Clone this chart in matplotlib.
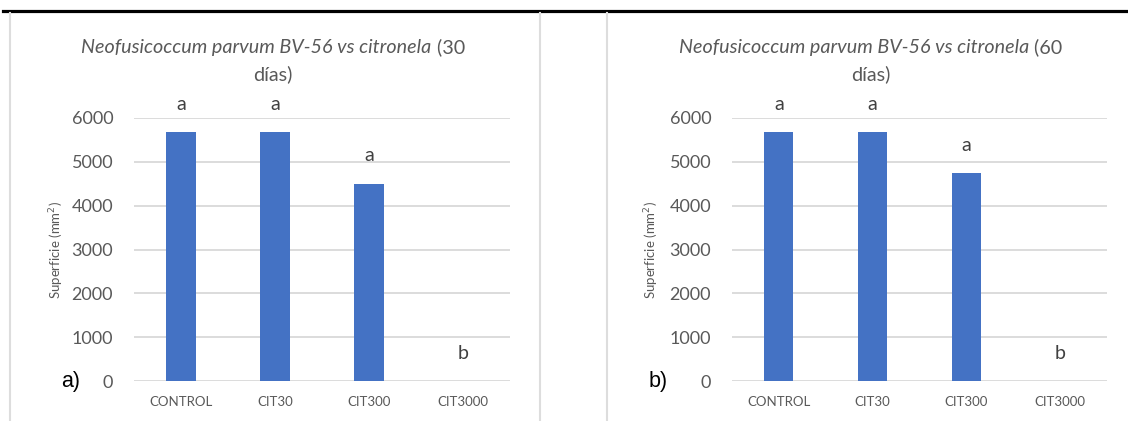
import matplotlib
matplotlib.use('Agg')
import matplotlib.pyplot as plt
from matplotlib.lines import Line2D

# data
categories = ['CONTROL', 'CIT30', 'CIT300', 'CIT3000']
surface_30 = [5670, 5670, 4500, 0]
surface_60 = [5670, 5670, 4740, 0]
letters_30 = ['a', 'a', 'a', 'b']
letters_60 = ['a', 'a', 'a', 'b']
yticks = [0, 1000, 2000, 3000, 4000, 5000, 6000]

W, H = 1128, 421
BAR = '#4472C4'
TXT = '#595959'
GRID = '#D9D9D9'
FONT = 'Lato'

plt.rcParams['font.family'] = [FONT, 'DejaVu Sans']

fig = plt.figure(figsize=(W / 100, H / 100), dpi=100)


def fx(px):
    return px / W


def fy(py):
    return 1 - py / H


def title(cx, y1, y2, italic_part, rest, line2):
    """Two-line title, first part italic like the Excel chart."""
    r = fig.canvas.get_renderer()
    t1 = fig.text(0, fy(y1), italic_part, style='italic', fontsize=14.2, color=TXT, va='center', ha='left')
    t2 = fig.text(0, fy(y1), rest, fontsize=14.2, color=TXT, va='center', ha='left')
    w1 = t1.get_window_extent(r).width
    w2 = t2.get_window_extent(r).width
    left = cx - (w1 + w2) / 2
    t1.set_x(fx(left))
    t2.set_x(fx(left + w1))
    fig.text(fx(cx), fy(y2), line2, fontsize=14.2, color=TXT, va='center', ha='center')


def panel(x0, x1, values, letters, days, tag, tag_x, ylab_x):
    ax = fig.add_axes([fx(x0), fy(381), fx(x1) - fx(x0), (381 - 118) / H])
    pos = range(len(categories))
    ax.bar(pos, values, width=0.31, color=BAR, zorder=3)
    ax.set_xlim(-0.5, len(categories) - 0.5)
    ax.set_ylim(0, 6000)
    ax.set_yticks(yticks)
    ax.set_xticks(list(pos))
    ax.set_xticklabels(categories)
    ax.tick_params(axis='y', length=0, pad=15, labelsize=13, labelcolor=TXT)
    ax.tick_params(axis='x', length=0, pad=11, labelsize=9.5, labelcolor=TXT)
    ax.yaxis.grid(True, color=GRID, lw=1.3, zorder=0)
    ax.set_axisbelow(True)
    for s in ax.spines.values():
        s.set_visible(False)
    for p, v, lt in zip(pos, values, letters):
        ax.annotate(lt, (p, v), xytext=(0, 20), textcoords='offset points',
                    ha='center', va='center', fontsize=14, color='#404040')

    cx = (x0 + x1) / 2 + (273 - 322)
    title(cx, 47, 74, 'Neofusicoccum parvum BV-56 vs citronela', ' (%d' % days, 'días)')
    fig.text(fx(ylab_x), fy(250), 'Superficie (mm$^2$)', rotation=90, fontsize=9.5,
             color=TXT, ha='center', va='center')
    fig.text(fx(tag_x), fy(382), tag, fontsize=15.5, color='black',
             family='Liberation Sans', ha='center', va='center')
    return ax


panel(134, 510, surface_30, letters_30, 30, 'a)', 71, 57)
panel(732, 1107, surface_60, letters_60, 60, 'b)', 658, 652)

# table frame around the two charts
fig.add_artist(Line2D([fx(3), fx(1128)], [fy(11), fy(11)], color='black', lw=2.3))
for xv in [10, 540, 607]:
    fig.add_artist(Line2D([fx(xv), fx(xv)], [fy(13), fy(421)], color='#DDDDDD', lw=1.5))

fig.savefig('out.png', dpi=100)
